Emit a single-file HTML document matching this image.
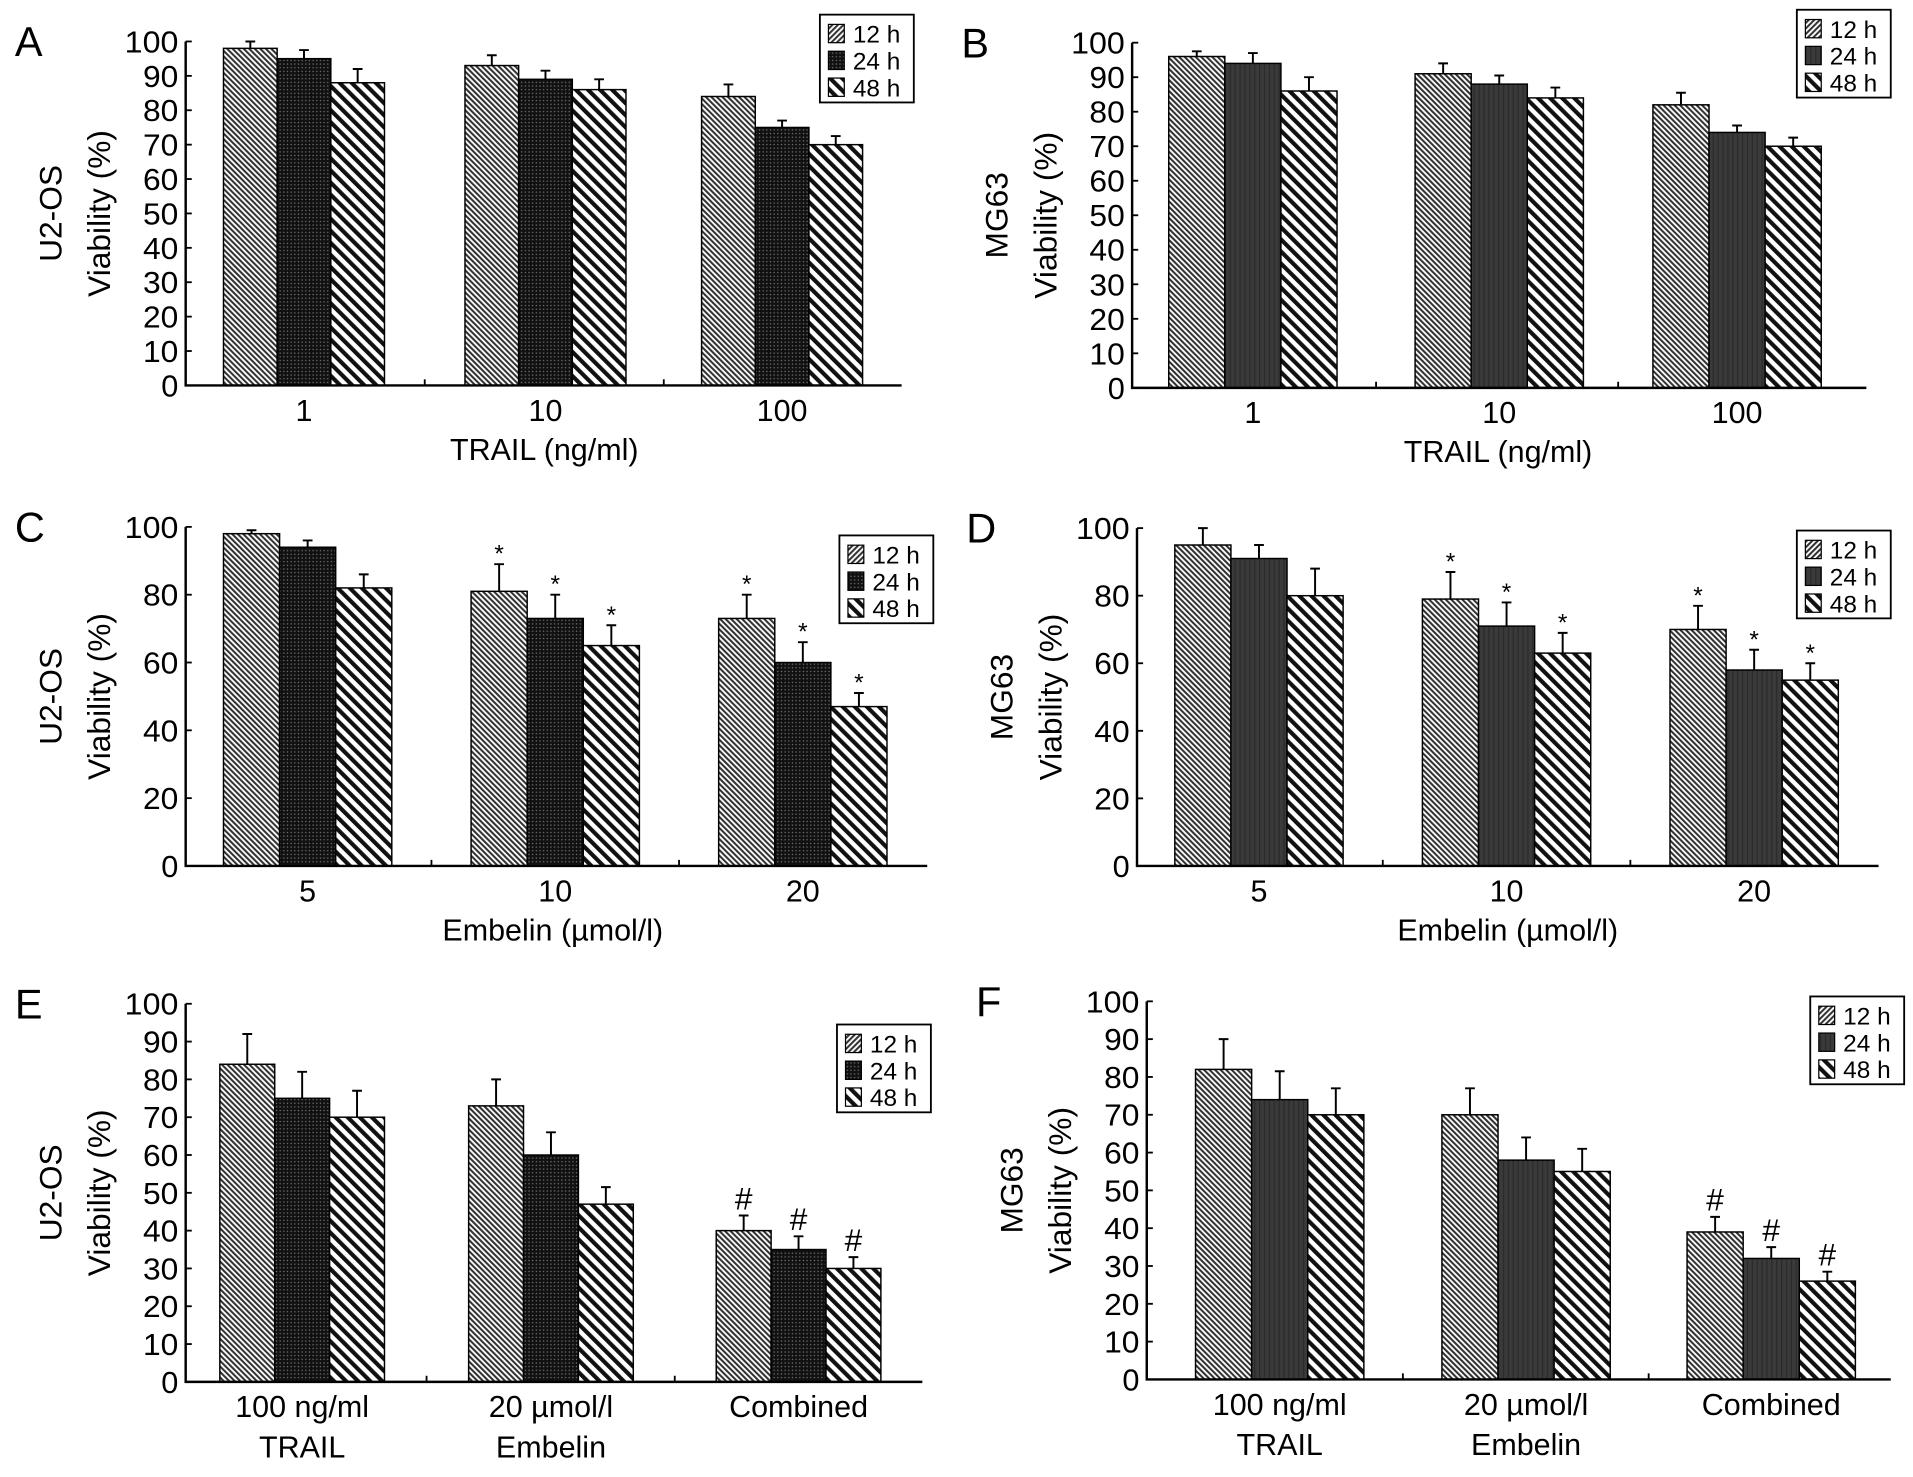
<!DOCTYPE html>
<html><head><meta charset="utf-8"><style>
html,body{margin:0;padding:0;background:#fff;}
svg{display:block;font-family:"Liberation Sans",Arial,sans-serif;}
</style></head><body>
<svg id="fig" width="1913" height="1477" viewBox="0 0 1568 1211" xmlns="http://www.w3.org/2000/svg">
<defs>
<pattern id="p12" patternUnits="userSpaceOnUse" width="3.2" height="3.2" patternTransform="rotate(-45)"><rect width="3.2" height="3.2" fill="#fff"/><rect width="1.7" height="3.2" fill="#333"/></pattern>
<pattern id="p24d" patternUnits="userSpaceOnUse" width="3" height="3"><rect width="3" height="3" fill="#111"/><circle cx="1.5" cy="1.5" r="0.6" fill="#777"/></pattern>
<pattern id="p24s" patternUnits="userSpaceOnUse" width="4" height="4"><rect width="4" height="4" fill="#3a3a3a"/><rect width="1" height="4" fill="#2a2a2a"/></pattern>
<pattern id="p48" patternUnits="userSpaceOnUse" width="7" height="7" patternTransform="rotate(-45)"><rect width="7" height="7" fill="#fff"/><rect width="3.4" height="7" fill="#111"/></pattern>
<pattern id="l12" patternUnits="userSpaceOnUse" width="3.2" height="3.2" patternTransform="rotate(45)"><rect width="3.2" height="3.2" fill="#fff"/><rect width="1.7" height="3.2" fill="#333"/></pattern>
</defs>
<g id="root"></g>
</svg>
<script>
// Panel A data
const catsA = ["1","10","100"];
const a12 = [98,93,84], a24 = [95,89,75], a48 = [88,86,70];
const aE12 = [2,3,3.5], aE24 = [2.5,2.5,2], aE48 = [4,3,2.5];
// Panel B
const catsB = ["1","10","100"];
const b12 = [96,91,82], b24 = [94,88,74], b48 = [86,84,70];
const bE12 = [1.5,3,3.5], bE24 = [3,2.5,2], bE48 = [4,3,2.5];
// Panel C
const catsC = ["5","10","20"];
const c12 = [98,81,73], c24 = [94,73,60], c48 = [82,65,47];
const cE12 = [1,8,7], cE24 = [2,7,6], cE48 = [4,6,4];
const cMarks = ["","*","*"];
// Panel D
const catsD = ["5","10","20"];
const d12 = [95,79,70], d24 = [91,71,58], d48 = [80,63,55];
const dE12 = [5,8,7], dE24 = [4,7,6], dE48 = [8,6,5];
const dMarks = ["","*","*"];
// Panel E
const catsE = [["100 ng/ml","TRAIL"],["20 \u00b5mol/l","Embelin"],["Combined"]];
const e12 = [84,73,40], e24 = [75,60,35], e48 = [70,47,30];
const eE12 = [8,7,4], eE24 = [7,6,3.5], eE48 = [7,4.5,3];
const eMarks = ["","","#"];
// Panel F
const catsF = [["100 ng/ml","TRAIL"],["20 \u00b5mol/l","Embelin"],["Combined"]];
const f12 = [82,70,39], f24 = [74,58,32], f48 = [70,55,26];
const fE12 = [8,7,4], fE24 = [7.5,6,3], fE48 = [7,6,2.5];
const fMarks = ["","","#"];
const ticks10 = [0,10,20,30,40,50,60,70,80,90,100];
const ticks20 = [0,20,40,60,80,100];
const legendLabels = ["12 h","24 h","48 h"];

const NS="http://www.w3.org/2000/svg";
const root=document.getElementById('root');
function mk(tag,attrs,parent){const e=document.createElementNS(NS,tag);for(const k in attrs)e.setAttribute(k,attrs[k]);(parent||root).appendChild(e);return e;}

function panel(cfg){
  const g=mk('g',{});
  
  
  const y=v=>cfg.y0-(cfg.y0-cfg.y100)*v/100;
  const fills=['url(#p12)',cfg.dots?'url(#p24d)':'url(#p24s)','url(#p48)'];
  const lfills=['url(#l12)',fills[1],'url(#p48)'];
  const series=[cfg.s12,cfg.s24,cfg.s48], errs=[cfg.e12,cfg.e24,cfg.e48];
  const L=mk('text',{x:cfg.ax-140,y:cfg.y100+12,'font-size':34},g);L.textContent=cfg.letter;
  
  
  cfg.groups.forEach((gx,i)=>{
    for(let s=0;s<3;s++){
      const x0=gx+s*cfg.bw, v=series[s][i];
      const ey=y(v+errs[s][i]);
      const eb=mk('path',{d:`M${x0+cfg.bw/2},${y(v)}V${ey}M${x0+cfg.bw/2-4},${ey}H${x0+cfg.bw/2+4}`,stroke:'#000','stroke-width':1.6,fill:'none'},g);
      
      
      const r=mk('rect',{x:x0,y:y(v),width:cfg.bw,height:cfg.y0-y(v),fill:fills[s],stroke:'#000','stroke-width':1.2},g);
      
      
      if(cfg.marks&&cfg.marks[i]){
        const t=mk('text',{x:x0+cfg.bw/2,y:ey-(cfg.marks[i]=='*'?2:5),'text-anchor':'middle','font-size':cfg.marks[i]=='*'?20:26},g);
        t.textContent=cfg.marks[i];
        
        
      }
    }
  });
  const ax=mk('path',{d:`M${cfg.ax},${cfg.y100}V${cfg.y0}H${cfg.axEnd}`,stroke:'#000','stroke-width':2,fill:'none'},g);
  
  
  cfg.ticks.forEach(t=>{
    mk('line',{x1:cfg.ax,x2:cfg.ax+5,y1:y(t),y2:y(t),stroke:'#000','stroke-width':1.5},g);
    const tl=mk('text',{x:cfg.ax-6,y:y(t)+9,'text-anchor':'end','font-size':25,textLength:t==100?44:(t==0?14:29),lengthAdjust:'spacingAndGlyphs'},g);tl.textContent=t;
    
    
  });
  for(let i=1;i<3;i++){const sx=(cfg.groups[i-1]+3*cfg.bw+cfg.groups[i])/2;mk('line',{x1:sx,x2:sx,y1:cfg.y0,y2:cfg.y0-5,stroke:'#000','stroke-width':1.5},g);}
  cfg.cats.forEach((c,i)=>{
    const cx=cfg.groups[i]+1.5*cfg.bw;
    const lines=Array.isArray(c)?c:[c];
    lines.forEach((ln,j)=>{const t=mk('text',{x:cx,y:cfg.y0+29+j*33,'text-anchor':'middle','font-size':25},g);t.textContent=ln;
      
      });
  });
  if(cfg.xtitle){const t=mk('text',{x:cfg.xtx,y:cfg.y0+61,'text-anchor':'middle','font-size':25},g);t.textContent=cfg.xtitle;
    
    }
  const cy=(cfg.y0+cfg.y100)/2;
  const yt1=mk('text',{x:0,y:0,'text-anchor':'middle','font-size':26,transform:`translate(${cfg.ax-102},${cy}) rotate(-90)`},g);yt1.textContent=cfg.cell;
  
  
  const yt2=mk('text',{x:0,y:0,'text-anchor':'middle','font-size':26,transform:`translate(${cfg.ax-62},${cy}) rotate(-90)`},g);yt2.textContent='Viability (%)';
  
  
  const lg=mk('g',{},g);
  
  
  mk('rect',{x:cfg.lx,y:cfg.ly,width:77,height:72,fill:'#fff',stroke:'#000','stroke-width':1.5},lg);
  legendLabels.forEach((lb,s)=>{
    const e=mk('g',{},lg);
    
    
    mk('rect',{x:cfg.lx+7,y:cfg.ly+8+s*22,width:13,height:15,fill:lfills[s],stroke:'#000','stroke-width':1},e);
    const t=mk('text',{x:cfg.lx+27,y:cfg.ly+23+s*22,'font-size':20},e);t.textContent=lb;
  });
}

panel({letter:'A',cell:'U2-OS',ax:152,y100:34,y0:316,axEnd:739,bw:44,groups:[183,381,575],ticks:ticks10,cats:catsA,s12:a12,s24:a24,s48:a48,e12:aE12,e24:aE24,e48:aE48,dots:true,xtitle:'TRAIL (ng/ml)',xtx:446,lx:672,ly:12});
panel({letter:'B',cell:'MG63',ax:928,y100:35,y0:318,axEnd:1530,bw:46,groups:[958,1160,1355],ticks:ticks10,cats:catsB,s12:b12,s24:b24,s48:b48,e12:bE12,e24:bE24,e48:bE48,dots:false,xtitle:'TRAIL (ng/ml)',xtx:1228,lx:1473,ly:8});
panel({letter:'C',cell:'U2-OS',ax:152,y100:432,y0:710,axEnd:760,bw:46,groups:[183,386,589],ticks:ticks20,cats:catsC,s12:c12,s24:c24,s48:c48,e12:cE12,e24:cE24,e48:cE48,dots:true,marks:cMarks,xtitle:'Embelin (\u00b5mol/l)',xtx:453,lx:688,ly:439});
panel({letter:'D',cell:'MG63',ax:932,y100:433,y0:710,axEnd:1540,bw:46,groups:[963,1166,1369],ticks:ticks20,cats:catsD,s12:d12,s24:d24,s48:d48,e12:dE12,e24:dE24,e48:dE48,dots:false,marks:dMarks,xtitle:'Embelin (\u00b5mol/l)',xtx:1236,lx:1473,ly:435});
panel({letter:'E',cell:'U2-OS',ax:152,y100:823,y0:1133,axEnd:756,bw:45,groups:[180,384,587],ticks:ticks10,cats:catsE,s12:e12,s24:e24,s48:e48,e12:eE12,e24:eE24,e48:eE48,dots:true,marks:eMarks,lx:686,ly:840});
panel({letter:'F',cell:'MG63',ax:940,y100:821,y0:1131,axEnd:1550,bw:46,groups:[980,1182,1383],ticks:ticks10,cats:catsF,s12:f12,s24:f24,s48:f48,e12:fE12,e24:fE24,e48:fE48,dots:false,marks:fMarks,lx:1484,ly:817});
</script>
</body></html>
